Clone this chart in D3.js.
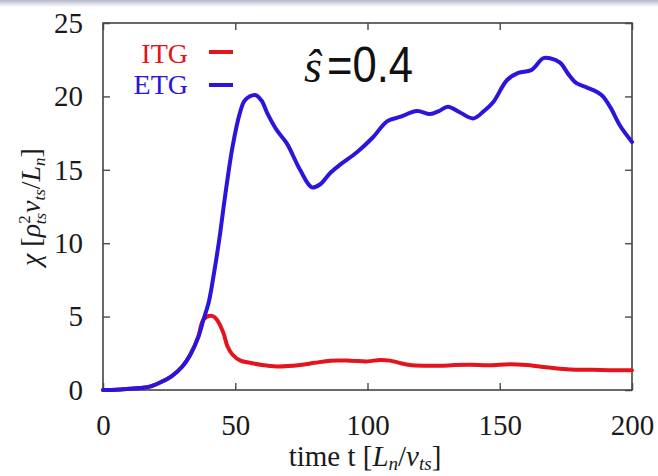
<!DOCTYPE html>
<html>
<head>
<meta charset="utf-8">
<script src="https://cdn.jsdelivr.net/npm/d3@7"></script>
<style>
  body { margin: 0; background: #fff; }
  svg { display: block; }
</style>
</head>
<body>
<div id="chart"></div>
<script>
// donnees (chi vs temps)
var etgT = [0, 5, 10, 15, 18, 22, 26, 30, 33, 36, 38, 40, 42, 44, 46, 49, 51.8, 53.7, 57.5, 60, 62, 65.7, 69.5, 74.5, 79, 82, 86, 90, 96, 102, 107.4, 112.3, 118.7, 123.6, 127, 130.4, 135, 140, 144, 147.5, 152.7, 157, 162, 166.4, 169, 172.8, 176, 179, 183, 186.8, 189, 192, 195.5, 200];
var etgV = [0, 0.02, 0.08, 0.15, 0.25, 0.55, 0.95, 1.6, 2.4, 3.6, 4.8, 6.0, 8.0, 10.3, 13.0, 16.6, 18.9, 19.75, 20.1, 19.7, 18.9, 17.7, 16.8, 15.0, 13.8, 14.0, 14.8, 15.4, 16.2, 17.2, 18.3, 18.6, 19.0, 18.8, 19.0, 19.3, 18.9, 18.5, 19.0, 19.6, 21.1, 21.6, 21.8, 22.6, 22.6, 22.3, 21.5, 20.9, 20.6, 20.3, 20.0, 19.2, 18.0, 16.9];
var itgT = [0, 5, 10, 15, 18, 22, 26, 30, 33, 36, 38, 41.2, 43, 45.5, 47, 49, 52, 55.6, 60, 65.7, 74.5, 80, 86, 93.4, 100, 104.7, 108.5, 112, 116, 122, 127.4, 133, 138.8, 146, 153.9, 160, 165, 170, 176.6, 185, 193, 200];
var itgV = [0, 0.02, 0.08, 0.15, 0.25, 0.55, 0.95, 1.6, 2.4, 3.6, 4.8, 5.05, 4.8, 3.9, 3.0, 2.4, 2.0, 1.85, 1.7, 1.6, 1.7, 1.85, 2.0, 2.0, 1.95, 2.05, 2.0, 1.85, 1.7, 1.65, 1.65, 1.7, 1.72, 1.68, 1.75, 1.7, 1.6, 1.5, 1.4, 1.38, 1.35, 1.35];
var xTicks = [0, 50, 100, 150, 200];
var yTicks = [0, 5, 10, 15, 20, 25];
var seriesNames = ["ITG", "ETG"];
var seriesColors = ["#e3141c", "#2b14dc"];

var width = 658, height = 476;
var margin = {left: 103, right: 26, top: 23, bottom: 86};
var serif = "'Liberation Serif', 'DejaVu Serif', serif";

var svg = d3.select("#chart").append("svg")
    .attr("width", width)
    .attr("height", height);

// bande grise en haut (capture d'ecran)
var grad = svg.append("defs").append("linearGradient")
    .attr("id", "topband").attr("x1", 0).attr("x2", 0).attr("y1", 0).attr("y2", 1);
grad.append("stop").attr("offset", "0%").attr("stop-color", "#b4b9c8");
grad.append("stop").attr("offset", "100%").attr("stop-color", "#ffffff");
svg.append("rect").attr("x", 0).attr("y", 0).attr("width", width).attr("height", 7)
    .attr("fill", "url(#topband)");

var x = d3.scaleLinear().domain([0, 200]).range([margin.left, width - margin.right]);
var y = d3.scaleLinear().domain([0, 25]).range([height - margin.bottom, margin.top]);

// axes : ticks vers l'interieur
var tk = 7;
svg.append("g").attr("transform", "translate(0," + y(0) + ")")
    .call(d3.axisBottom(x).tickValues(xTicks).tickSize(-tk).tickPadding(24).tickFormat(d3.format("d")));
svg.append("g").attr("transform", "translate(0," + y(25) + ")")
    .call(d3.axisTop(x).tickValues(xTicks).tickSize(-tk).tickFormat(""));
svg.append("g").attr("transform", "translate(" + x(0) + ",0)")
    .call(d3.axisLeft(y).tickValues(yTicks).tickSize(-tk).tickPadding(20).tickFormat(d3.format("d")));
svg.append("g").attr("transform", "translate(" + x(200) + ",0)")
    .call(d3.axisRight(y).tickValues(yTicks).tickSize(-tk).tickFormat(""));

svg.selectAll(".domain").remove();
svg.selectAll(".tick line").attr("stroke", "#555").attr("stroke-width", 1.5);
svg.selectAll(".tick text")
    .attr("font-family", serif)
    .attr("font-size", 29)
    .attr("fill", "#1a1a1a");

// cadre
svg.append("rect")
    .attr("x", x(0)).attr("y", y(25))
    .attr("width", x(200) - x(0)).attr("height", y(0) - y(25))
    .attr("fill", "none").attr("stroke", "#444").attr("stroke-width", 1.6);

// courbes
var line = d3.line()
    .x(function(d) { return x(d[0]); })
    .y(function(d) { return y(d[1]); })
    .curve(d3.curveCatmullRom.alpha(0.5));

var itgData = d3.zip(itgT, itgV);
var etgData = d3.zip(etgT, etgV);

svg.append("path").datum(itgData).attr("d", line)
    .attr("fill", "none").attr("stroke", seriesColors[0]).attr("stroke-width", 4)
    .attr("stroke-linejoin", "round").attr("stroke-linecap", "round");
svg.append("path").datum(etgData).attr("d", line)
    .attr("fill", "none").attr("stroke", seriesColors[1]).attr("stroke-width", 4)
    .attr("stroke-linejoin", "round").attr("stroke-linecap", "round");

// legende
var leg = svg.selectAll(".leg").data(seriesNames).enter().append("g").attr("class", "leg");
leg.append("text")
    .attr("x", 188)
    .attr("y", function(d, i) { return 63 + i * 31; })
    .attr("text-anchor", "end")
    .attr("font-family", serif)
    .attr("font-size", 28)
    .attr("fill", function(d, i) { return seriesColors[i]; })
    .text(function(d) { return d; });
leg.append("line")
    .attr("x1", 209).attr("x2", 233)
    .attr("y1", function(d, i) { return 52 + i * 33; })
    .attr("y2", function(d, i) { return 52 + i * 33; })
    .attr("stroke", function(d, i) { return seriesColors[i]; })
    .attr("stroke-width", 4);

// annotation s-hat = 0.4
svg.append("text")
    .attr("x", 304).attr("y", 82)
    .attr("font-family", serif).attr("font-style", "italic")
    .attr("font-size", 46).attr("fill", "#111")
    .text("\u015D");
svg.append("text")
    .attr("x", 327).attr("y", 82)
    .attr("font-family", "'Liberation Sans', Arial, sans-serif")
    .attr("font-size", 50).attr("fill", "#111")
    .attr("textLength", 86).attr("lengthAdjust", "spacingAndGlyphs")
    .text("=0.4");

// titre axe x
var xl = svg.append("text")
    .attr("x", 365).attr("y", 466)
    .attr("text-anchor", "middle")
    .attr("font-family", serif).attr("font-size", 29).attr("fill", "#1a1a1a");
xl.append("tspan").text("time t [");
xl.append("tspan").attr("font-style", "italic").text("L");
xl.append("tspan").attr("font-style", "italic").attr("font-size", 19).attr("dy", 4).text("n");
xl.append("tspan").attr("dy", -4).text("/");
xl.append("tspan").attr("font-style", "italic").text("v");
xl.append("tspan").attr("font-style", "italic").attr("font-size", 19).attr("dy", 4).text("ts");
xl.append("tspan").attr("dy", -4).text("]");

// titre axe y
var yl = svg.append("text")
    .attr("transform", "translate(40,207) rotate(-90)")
    .attr("text-anchor", "middle")
    .attr("font-family", serif).attr("font-size", 28).attr("fill", "#1a1a1a");
yl.append("tspan").attr("font-style", "italic").text("\u03C7");
yl.append("tspan").text(" [");
yl.append("tspan").attr("font-style", "italic").text("\u03C1");
yl.append("tspan").attr("font-size", 17).attr("dy", -10).text("2");
yl.append("tspan").attr("font-style", "italic").attr("font-size", 17).attr("dx", -9).attr("dy", 16).text("ts");
yl.append("tspan").attr("font-style", "italic").attr("dy", -6).text("v");
yl.append("tspan").attr("font-style", "italic").attr("font-size", 17).attr("dy", 5).text("ts");
yl.append("tspan").attr("dy", -5).text("/");
yl.append("tspan").attr("font-style", "italic").text("L");
yl.append("tspan").attr("font-style", "italic").attr("font-size", 17).attr("dy", 5).text("n");
yl.append("tspan").attr("dy", -5).text("]");
</script>
</body>
</html>
